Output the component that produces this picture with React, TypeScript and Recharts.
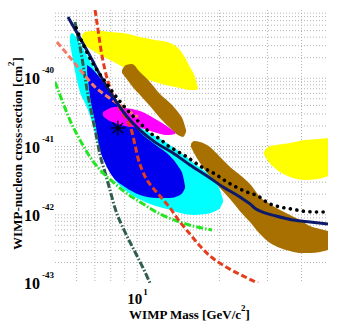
import React from 'react';
import { ComposedChart, Area, Line, Scatter, XAxis, YAxis, CartesianGrid, Label } from 'recharts';

const FONT = '"Liberation Serif", "Times New Roman", serif';
const FRAME = '#7a7a7a';

// ---- axis ticks / labels ----
const xDomain = [5, 50];
const yDomain = [1e-43, 1e-39];
const xLabelValues = [10];
const xLabelExps = ['1'];
const yLabelValues = [1e-43, 1e-42, 1e-41, 1e-40];
const yLabelExps = ['-43', '-42', '-41', '-40'];
const xMinorTicks = [6, 7, 8, 9, 20, 30, 40];
const xMajorTicks = [10];
const yDecades = [1e-43, 1e-42, 1e-41, 1e-40];
const yMantissas = [2, 3, 4, 5, 6, 7, 8, 9];
const yMinorTicks = yDecades.flatMap((d) => yMantissas.map((k) => k * d));
const yMajorTicks = [1e-42, 1e-41, 1e-40];
const xGridValues = [...xMinorTicks, ...xMajorTicks];
const yGridValues = [...yMinorTicks, ...yMajorTicks];

// ---- filled regions (mass GeV/c^2, cross-section bounds cm^2) ----
const yellowAMass = [6.28, 6.44, 6.83, 7.31, 7.95, 8.87, 10.24, 11.62, 13.19, 14.35, 15.61, 16.28, 16.7];
const yellowAHigh = [4.3e-40, 4.76e-40, 4.92e-40, 4.92e-40, 4.76e-40, 4.6e-40, 4.02e-40, 3.63e-40, 3.29e-40, 2.59e-40, 1.46e-40, 1.04e-40, 7.2e-41];
const yellowALow = [3.4e-40, 3.07e-40, 2.59e-40, 2.19e-40, 1.85e-40, 1.46e-40, 1.04e-40, 8.81e-41, 7.7e-41, 7.2e-41, 6.73e-41, 6.73e-41, 6.96e-41];

const yellowBMass = [29.14, 30.15, 32.26, 36.29, 41.19, 45.95, 50];
const yellowBHigh = [8.31e-42, 9.83e-42, 1.05e-41, 1.13e-41, 1.25e-41, 1.29e-41, 1.33e-41];
const yellowBLow = [7.76e-42, 6.13e-42, 4.68e-42, 3.57e-42, 3.23e-42, 3.34e-42, 3.7e-42];

const brownAMass = [8.8, 9.1, 9.57, 10.24, 11.14, 12.12, 13.19, 14.11, 14.72, 15.1];
const brownAHigh = [1.32e-40, 1.56e-40, 1.62e-40, 1.23e-40, 8.81e-41, 5.88e-41, 4.34e-41, 3.2e-41, 2.44e-41, 1.74e-41];
const brownALow = [1.19e-40, 1.01e-40, 7.7e-41, 5.68e-41, 3.92e-41, 2.62e-41, 1.87e-41, 1.47e-41, 1.38e-41, 1.63e-41];

const brownBMass = [15.74, 16.15, 16.99, 18.48, 20.11, 21.88, 23.8, 25.9, 28.18, 30.67, 33.37, 36.29, 39.5, 42.96, 46.74, 50];
const brownBHigh = [1.09e-41, 1.2e-41, 1.16e-41, 9.83e-42, 7.02e-42, 5.01e-42, 3.82e-42, 2.82e-42, 1.82e-42, 1.44e-42, 1.17e-42, 9.92e-43, 8.38e-43, 6.84e-43, 6.18e-43, 5.78e-43];
const brownBLow = [9.83e-42, 8.03e-42, 5.73e-42, 3.57e-42, 2.47e-42, 1.7e-42, 1.13e-42, 7.83e-43, 5.22e-43, 3.86e-43, 3.26e-43, 2.94e-43, 2.75e-43, 2.75e-43, 2.85e-43, 3.04e-43];

const cyanMass = [5.67, 5.77, 5.97, 6.17, 6.44, 6.72, 7.01, 7.31, 7.82, 8.29, 9.02, 9.82, 11.14, 12.86, 14.35, 16.28, 18.03, 19.28, 20.11, 20.63];
const cyanHigh = [4.16e-40, 4.6e-40, 4.02e-40, 3.29e-40, 2.42e-40, 1.79e-40, 1.32e-40, 9.75e-41, 6.29e-41, 4.49e-41, 2.89e-41, 2.14e-41, 1.58e-41, 1.13e-41, 8.31e-42, 5.54e-42, 4.09e-42, 3.02e-42, 2.3e-42, 1.64e-42];
const cyanLow = [3.4e-40, 2.19e-40, 1.08e-40, 6.29e-41, 4.34e-41, 2.8e-41, 1.58e-41, 8.89e-42, 5.01e-42, 3.23e-42, 2.3e-42, 1.82e-42, 1.44e-42, 1.21e-42, 1.06e-42, 9.92e-43, 1.03e-42, 1.13e-42, 1.26e-42, 1.54e-42];

const blueMass = [6.55, 6.72, 7.01, 7.31, 7.62, 8.15, 9.02, 10.24, 11.82, 13.19, 14.11, 14.72, 14.97];
const blueHigh = [1.56e-40, 1.46e-40, 1.23e-40, 1.01e-40, 8.24e-41, 5.68e-41, 3.2e-41, 1.63e-41, 1.02e-41, 7.26e-42, 5.18e-42, 3.7e-42, 2.64e-42];
const blueLow = [1.23e-40, 5.31e-41, 2.29e-41, 8.89e-42, 5.73e-42, 3.57e-42, 2.55e-42, 1.95e-42, 1.76e-42, 1.76e-42, 1.88e-42, 2.15e-42, 2.47e-42];

const magentaMass = [7.49, 7.82, 8.29, 9.02, 10.24, 11.82, 12.97, 13.76];
const magentaHigh = [3.2e-41, 3.54e-41, 3.79e-41, 3.67e-41, 3.31e-41, 2.44e-41, 1.93e-41, 1.63e-41];
const magentaLow = [2.8e-41, 2.44e-41, 2.21e-41, 2e-41, 1.87e-41, 1.58e-41, 1.47e-41, 1.52e-41];

// ---- limit curves ----
const navyMass = [5.58, 6.17, 6.72, 7.31, 7.95, 8.65, 9.41, 10.24, 11.62, 13.53, 15.61, 18.03, 20.63, 23.8, 25.9, 27.25, 28.65, 32.26, 37.23, 42.96, 50];
const navySigma = [7.89e-40, 3.89e-40, 2.12e-40, 1.12e-40, 6.29e-41, 3.79e-41, 2.44e-41, 1.74e-41, 1.16e-41, 8.03e-42, 5.36e-42, 3.7e-42, 2.55e-42, 1.82e-42, 1.44e-42, 1.21e-42, 1.1e-42, 9.59e-43, 8.38e-43, 7.83e-43, 7.32e-43];

const dottedMass = [5.97, 6.33, 6.77, 7.25, 7.75, 8.23, 8.8, 9.41, 9.98, 10.5, 11.43, 12.12, 12.86, 13.76, 15.22, 16.99, 19.28, 21.33, 23.01, 25.25, 27.71, 30.15, 33.37, 36.92, 40.51, 44.82, 50];
const dottedSigma = [5.45e-40, 3.18e-40, 1.85e-40, 1.19e-40, 8.24e-41, 5.88e-41, 4.2e-41, 3.1e-41, 2.44e-41, 2e-41, 1.47e-41, 1.29e-41, 1.05e-41, 8.89e-42, 7.02e-42, 5.18e-42, 3.96e-42, 3.02e-42, 2.55e-42, 2.15e-42, 1.88e-42, 1.49e-42, 1.3e-42, 1.21e-42, 1.13e-42, 1.1e-42, 1.1e-42];

const redMass = [7.01, 7.19, 7.37, 7.62, 7.95, 8.36, 8.8, 9.26, 9.57, 9.82, 10.07, 10.42, 10.86, 11.43, 12.12, 13.19, 14.35, 15.61, 16.99, 18.48, 21.16, 24.41, 27.71];
const redSigma = [1e-39, 5.09e-40, 2.59e-40, 1.32e-40, 7.2e-41, 4.49e-41, 3.2e-41, 2.29e-41, 1.63e-41, 1.05e-41, 6.78e-42, 4.53e-42, 3.23e-42, 2.47e-42, 1.88e-42, 1.26e-42, 7.83e-43, 5.22e-43, 3.48e-43, 2.49e-43, 1.72e-43, 1.27e-43, 1e-43];

const salmonMass = [5.08, 5.58, 6.28, 7.01, 7.82, 8.65, 9.41, 10.07];
const salmonSigma = [3.4e-40, 2.19e-40, 1.23e-40, 7.44e-41, 5.31e-41, 4.06e-41, 3.2e-41, 2.71e-41];

const greenMass = [5.0, 5.3, 5.67, 6.17, 6.72, 7.43, 8.15, 9.02, 10.24, 12.12, 13.99, 16.01, 18.8];
const greenSigma = [8.81e-41, 4.8e-41, 2.44e-41, 1.25e-41, 7.02e-42, 4.23e-42, 3.02e-42, 2.15e-42, 1.54e-42, 1.03e-42, 8.1e-43, 6.84e-43, 5.98e-43];

const tealMass = [5.92, 6.07, 6.28, 6.44, 6.6, 6.77, 6.95, 7.13, 7.31, 7.62, 7.95, 8.29, 9.02, 9.82, 10.68, 11.14];
const tealSigma = [6.67e-40, 4.02e-40, 1.98e-40, 1.04e-40, 5.68e-41, 3.43e-41, 2.07e-41, 1.25e-41, 7.51e-42, 4.23e-42, 2.3e-42, 1.26e-42, 5.59e-43, 2.85e-43, 1.45e-43, 1e-43];

const bestFitMass = [8.5];
const bestFitSigma = [1.87e-41];

const band = (mass: number[], low: number[], high: number[]) =>
  mass.map((m, i) => ({ m, r: [low[i], high[i]] }));
const curve = (mass: number[], sig: number[]) => mass.map((m, i) => ({ m, s: sig[i] }));

const regions = [
  { key: 'yA', data: band(yellowAMass, yellowALow, yellowAHigh), color: '#ffff00' },
  { key: 'yB', data: band(yellowBMass, yellowBLow, yellowBHigh), color: '#ffff00' },
  { key: 'bA', data: band(brownAMass, brownALow, brownAHigh), color: '#a87000' },
  { key: 'bB', data: band(brownBMass, brownBLow, brownBHigh), color: '#a87000' },
  { key: 'cy', data: band(cyanMass, cyanLow, cyanHigh), color: '#00ffff' },
  { key: 'bl', data: band(blueMass, blueLow, blueHigh), color: '#0000ee' },
  { key: 'mg', data: band(magentaMass, magentaLow, magentaHigh), color: '#ff00ff' },
];

const XTick = (props: any) => {
  const { x, y, payload } = props;
  const i = xLabelValues.indexOf(payload.value);
  if (i < 0) return <g />;
  return (
    <g fontFamily={FONT} fontWeight="bold" fill="#000">
      <text x={x + 5} y={y + 21} textAnchor="end" fontSize={15}>10</text>
      <text x={x + 6} y={y + 12} textAnchor="start" fontSize={9}>{xLabelExps[i]}</text>
    </g>
  );
};

const YTick = (props: any) => {
  const { x, y, payload } = props;
  const i = yLabelValues.findIndex((v) => Math.abs(v - payload.value) / v < 1e-6);
  if (i < 0) return <g />;
  return (
    <g fontFamily={FONT} fontWeight="bold" fill="#000">
      <text x={x - 15} y={y + 6} textAnchor="end" fontSize={16}>10</text>
      <text x={x - 13} y={y - 5} textAnchor="start" fontSize={9}>{yLabelExps[i]}</text>
    </g>
  );
};

const XTitle = (props: any) => {
  const vb = props.viewBox || { x: 55, y: 283, width: 273, height: 43 };
  const cx = vb.x + vb.width / 2 - 2;
  const by = vb.y + 36;
  return (
    <text x={cx} y={by} textAnchor="middle" fontFamily={FONT} fontWeight="bold" fontSize={13} fill="#000">
      <tspan>WIMP Mass [GeV/c</tspan>
      <tspan fontSize={9} dy={-8}>2</tspan>
      <tspan dy={8}>]</tspan>
    </text>
  );
};

const YTitle = (props: any) => {
  const vb = props.viewBox || { x: 0, y: 10, width: 55, height: 273 };
  const bx = vb.x + 22;
  const cy = vb.y + vb.height / 2 + 7;
  return (
    <text x={bx} y={cy} transform={`rotate(-90 ${bx} ${cy})`} textAnchor="middle" fontFamily={FONT} fontWeight="bold" fontSize={13} fill="#000">
      <tspan>WIMP-nucleon cross-section [cm</tspan>
      <tspan fontSize={9} dy={-8}>2</tspan>
      <tspan dy={8}>]</tspan>
    </text>
  );
};

const Asterisk = (props: any) => {
  const { cx, cy } = props;
  const r = 7.5;
  const d = r * 0.7071;
  return (
    <g stroke="#000" strokeWidth={1.2}>
      <line x1={cx - r} y1={cy} x2={cx + r} y2={cy} />
      <line x1={cx} y1={cy - r} x2={cx} y2={cy + r} />
      <line x1={cx - d} y1={cy - d} x2={cx + d} y2={cy + d} />
      <line x1={cx - d} y1={cy + d} x2={cx + d} y2={cy - d} />
    </g>
  );
};

const frameAxisCommon = {
  type: 'number' as const,
  scale: 'log' as const,
  allowDataOverflow: true,
  mirror: true,
  tick: false,
  interval: 0 as const,
  tickLine: { stroke: FRAME },
  axisLine: { stroke: FRAME },
};

export default function App() {
  return (
    <div style={{ position: 'absolute', left: 0, top: 0, width: 352, height: 326, background: '#fff' }}>
      <ComposedChart width={352} height={326} margin={{ top: 10, right: 24, bottom: 0, left: 0 }}>
        <CartesianGrid
          verticalValues={xGridValues}
          horizontalValues={yGridValues}
          stroke="#b4b4b4"
          strokeDasharray="1 2"
        />
        <XAxis
          dataKey="m"
          type="number"
          scale="log"
          domain={xDomain}
          allowDataOverflow
          ticks={xLabelValues}
          interval={0}
          tick={<XTick />}
          tickLine={false}
          axisLine={false}
          tickSize={0}
          tickMargin={0}
          height={43}
        >
          <Label content={XTitle} />
        </XAxis>
        <YAxis
          type="number"
          scale="log"
          domain={yDomain}
          allowDataOverflow
          ticks={yLabelValues}
          interval={0}
          tick={<YTick />}
          tickLine={false}
          axisLine={false}
          tickSize={0}
          tickMargin={0}
          width={55}
        >
          <Label content={YTitle} />
        </YAxis>
        <XAxis xAxisId="xbMin" orientation="bottom" height={0} domain={xDomain} ticks={xMinorTicks} tickSize={4} {...frameAxisCommon} />
        <XAxis xAxisId="xbMaj" orientation="bottom" height={0} domain={xDomain} ticks={xMajorTicks} tickSize={8} {...frameAxisCommon} />
        <XAxis xAxisId="xtMin" orientation="top" height={0} domain={xDomain} ticks={xMinorTicks} tickSize={4} {...frameAxisCommon} />
        <XAxis xAxisId="xtMaj" orientation="top" height={0} domain={xDomain} ticks={xMajorTicks} tickSize={8} {...frameAxisCommon} />
        <YAxis yAxisId="ylMin" orientation="left" width={0} domain={yDomain} ticks={yMinorTicks} tickSize={4} {...frameAxisCommon} />
        <YAxis yAxisId="ylMaj" orientation="left" width={0} domain={yDomain} ticks={yMajorTicks} tickSize={8} {...frameAxisCommon} />
        <YAxis yAxisId="yrMin" orientation="right" width={0} domain={yDomain} ticks={yMinorTicks} tickSize={4} {...frameAxisCommon} />
        <YAxis yAxisId="yrMaj" orientation="right" width={0} domain={yDomain} ticks={yMajorTicks} tickSize={8} {...frameAxisCommon} />

        {regions.map((g) => (
          <Area
            key={g.key}
            data={g.data}
            dataKey="r"
            type="monotone"
            stroke="none"
            fill={g.color}
            fillOpacity={1}
            dot={false}
            activeDot={false}
            isAnimationActive={false}
          />
        ))}

        <Line data={curve(tealMass, tealSigma)} dataKey="s" type="monotone" stroke="#2f5e4e" strokeWidth={3} strokeDasharray="7 2 1.5 2" dot={false} activeDot={false} isAnimationActive={false} />
        <Line data={curve(greenMass, greenSigma)} dataKey="s" type="monotone" stroke="#22e622" strokeWidth={3} strokeDasharray="7 2 1.5 2" dot={false} activeDot={false} isAnimationActive={false} />
        <Line data={curve(salmonMass, salmonSigma)} dataKey="s" type="monotone" stroke="#f47a6a" strokeWidth={3} strokeDasharray="6 3" dot={false} activeDot={false} isAnimationActive={false} />
        <Line data={curve(redMass, redSigma)} dataKey="s" type="monotone" stroke="#e63c1c" strokeWidth={3} strokeDasharray="6 3" dot={false} activeDot={false} isAnimationActive={false} />
        <Line data={curve(navyMass, navySigma)} dataKey="s" type="monotone" stroke="#0c1a6a" strokeWidth={3} dot={false} activeDot={false} isAnimationActive={false} />
        <Line data={curve(dottedMass, dottedSigma)} dataKey="s" type="monotone" stroke="#000" strokeWidth={3.6} strokeLinecap="round" strokeDasharray="0.1 6.5" dot={false} activeDot={false} isAnimationActive={false} />
        <Scatter data={curve(bestFitMass, bestFitSigma)} dataKey="s" shape={<Asterisk />} isAnimationActive={false} />
      </ComposedChart>
    </div>
  );
}
